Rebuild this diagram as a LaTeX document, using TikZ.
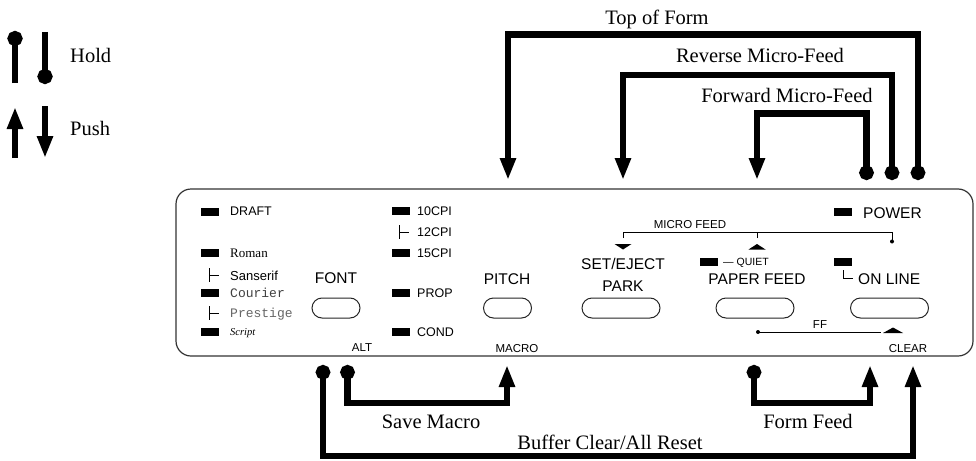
\documentclass[tikz,border=0pt]{standalone}
\usepackage{fontspec}
\setmainfont{Liberation Serif}
\newfontfamily\arialf{Liberation Sans}
\newfontfamily\courf{Liberation Mono}
\usetikzlibrary{arrows.meta}
\begin{document}
\begin{tikzpicture}[x=1pt,y=-1pt,
  conn/.style={line width=6.5pt,{Circle[length=14.5pt,width=14.5pt]}-{Triangle[width=15pt,length=22pt]}},
  holdl/.style={line width=6.5pt,-{Circle[length=15pt,width=15pt]}},
  pushl/.style={line width=6.5pt,-{Triangle[width=15pt,length=22pt]}},
  lbl/.style={inner sep=0pt,font=\fontsize{20.5}{24}\selectfont},
  big/.style={inner sep=0pt,font=\arialf\fontsize{15.5}{18}\selectfont},
  med/.style={inner sep=0pt,font=\arialf\fontsize{12.5}{15}\selectfont},
  small/.style={inner sep=0pt,font=\arialf\fontsize{11.5}{14}\selectfont},
  tiny/.style={inner sep=0pt,font=\arialf\fontsize{10.5}{12}\selectfont},
  led/.style={fill=black,draw=none,minimum width=18pt,minimum height=8pt,inner sep=0pt},
  btn/.style={draw=black!85,line width=1pt,rounded corners=10pt,minimum width=48pt,minimum height=20pt,inner sep=0pt},
  wbtn/.style={btn,minimum width=78pt},
  thin/.style={line width=0.8pt},
  tri/.style={fill=black,draw=none}]
\useasboundingbox (0,0) rectangle (976,460);
\fill[white] (0,0) rectangle (976,460);

% legend
\coordinate (h1a) at (15,83); \coordinate (h1b) at (15,31);
\coordinate (h2a) at (45,32); \coordinate (h2b) at (45,84);
\draw[holdl] (h1a) -- (h1b);
\draw[holdl] (h2a) -- (h2b);
\node[lbl,anchor=base west] (hold) at (70,63) {Hold};
\coordinate (p1a) at (15,158); \coordinate (p1b) at (15,107);
\coordinate (p2a) at (45,106); \coordinate (p2b) at (45,158);
\draw[pushl] (p1a) -- (p1b);
\draw[pushl] (p2a) -- (p2b);
\node[lbl,anchor=base west] (push) at (70,135) {Push};

% panel
\draw[line width=1.2pt,draw=black!80,rounded corners=15pt] (176,189) rectangle (973,356);

% left column
\node[led] (ledDraft) at (210,211.5) {};
\node[med,anchor=base west] (tDraft) at (230,215.3) {DRAFT};
\node[led] (ledRoman) at (210,252.5) {};
\node[inner sep=0pt,anchor=base west,font=\fontsize{13}{15}\selectfont] (tRoman) at (230,257) {Roman};
\draw[thin] (209,268) -- (209,282) (209,275) -- (219,275);
\node[inner sep=0pt,anchor=base west,font=\arialf\fontsize{13}{15}\selectfont] (tSans) at (230,280) {Sanserif};
\node[led] (ledCourier) at (210,293) {};
\node[inner sep=0pt,anchor=base west,font=\courf\fontsize{13}{15}\selectfont,text=black!75] (tCourier) at (230,297) {Courier};
\draw[thin] (209,306) -- (209,320) (209,313) -- (219,313);
\node[inner sep=0pt,anchor=base west,font=\courf\fontsize{13}{15}\selectfont,text=black!60] (tPrestige) at (230,317) {Prestige};
\node[led] (ledScript) at (210,332) {};
\node[inner sep=0pt,anchor=base west,font=\itshape\fontsize{10.5}{12}\selectfont] (tScript) at (230,335) {Script};

\node[big,anchor=base] (tFont) at (336,283) {FONT};
\node[btn] (bFont) at (336,308) {};
\node[small,anchor=base] (tAlt) at (362,351) {ALT};

% pitch column
\node[led] (led10) at (401,211) {};
\node[med,anchor=base west] (t10) at (417,215) {10CPI};
\draw[thin] (399,225) -- (399,239) (399,232) -- (409,232);
\node[med,anchor=base west] (t12) at (417,236) {12CPI};
\node[led] (led15) at (401,252.5) {};
\node[med,anchor=base west] (t15) at (417,257) {15CPI};
\node[led] (ledProp) at (401,293) {};
\node[med,anchor=base west] (tProp) at (417,297) {PROP};
\node[led] (ledCond) at (401,332) {};
\node[med,anchor=base west] (tCond) at (417,336) {COND};

\node[big,anchor=base] (tPitch) at (507,284) {PITCH};
\node[btn] (bPitch) at (507.5,308) {};
\node[small,anchor=base] (tMacro) at (517,352) {MACRO};

% set/eject
\node[big,anchor=base] (tSet) at (623,269) {SET/EJECT};
\node[big,anchor=base] (tPark) at (623,291) {PARK};
\node[wbtn] (bSet) at (621,308) {};

% micro feed bracket
\node[small,anchor=base] (tMicro) at (690,228) {MICRO FEED};
\coordinate (mfL) at (623,238); \coordinate (mfM) at (757,238); \coordinate (mfR) at (892,241.5);
\draw[thin] (mfL) -- (623,232) -- (892,232) -- (mfR);
\draw[thin] (mfM) -- (757,232);
\fill (mfR) circle (2pt);
\fill[tri] (614.5,244) -- (631.5,244) -- (623,249.5) -- cycle;
\fill[tri] (748.5,249.5) -- (765.5,249.5) -- (757,244) -- cycle;

% paper feed
\node[led] (ledQuiet) at (709,262) {};
\node[tiny,anchor=base west] (tQuiet) at (723,265) {\textemdash\ QUIET};
\node[big,anchor=base] (tPaper) at (757,284) {PAPER FEED};
\node[wbtn] (bPaper) at (755,308) {};

% power / on line
\node[led] (ledPower) at (842.5,212) {};
\node[big,anchor=base west] (tPower) at (863,218) {POWER};
\node[led] (ledOnline) at (842.5,262) {};
\draw[thin] (843,270) -- (843,278.5) -- (853,278.5);
\node[big,anchor=base west] (tOnline) at (858,284) {ON LINE};
\node[wbtn] (bOnline) at (889.5,308) {};

% FF / clear
\coordinate (ffL) at (758,332); \coordinate (ffR) at (881,332);
\draw[thin] (ffL) -- (ffR);
\fill (ffL) circle (2pt);
\node[small,anchor=base] (tFF) at (820,328) {FF};
\fill[tri] (883,333) -- (903,333) -- (893,327.5) -- cycle;
\node[small,anchor=base] (tClear) at (908,352) {CLEAR};

% top connectors
\coordinate (railTop) at (0,34.5);
\coordinate (railRev) at (0,75);
\coordinate (railFwd) at (0,113.5);
\coordinate (tofS) at (918,180); \coordinate (tofE) at (508,180);
\coordinate (revS) at (892,180); \coordinate (revE) at (623,180);
\coordinate (fwdS) at (866.5,180); \coordinate (fwdE) at (757,180);
\draw[conn] (tofS) -- (tofS |- railTop) -| (tofE);
\draw[conn] (revS) -- (revS |- railRev) -| (revE);
\draw[conn] (fwdS) -- (fwdS |- railFwd) -| (fwdE);
\node[lbl,anchor=base] (lTop) at (657,25) {Top of Form};
\node[lbl,anchor=base] (lRev) at (760,63) {Reverse Micro-Feed};
\node[lbl,anchor=base] (lFwd) at (787,102) {Forward Micro-Feed};

% bottom connectors
\coordinate (railSave) at (0,403);
\coordinate (railBuf) at (0,456);
\coordinate (saveS) at (347.5,365); \coordinate (saveE) at (507,365);
\coordinate (bufS) at (323,365); \coordinate (bufE) at (913,365);
\coordinate (ffS) at (754,365); \coordinate (ffE) at (870,365);
\draw[conn] (saveS) -- (saveS |- railSave) -| (saveE);
\draw[conn] (bufS) -- (bufS |- railBuf) -| (bufE);
\draw[conn] (ffS) -- (ffS |- railSave) -| (ffE);
\node[lbl,anchor=base] (lSave) at (431,428) {Save Macro};
\node[lbl,anchor=base] (lForm) at (808,428) {Form Feed};
\node[lbl,anchor=base] (lBuf) at (610,449) {Buffer Clear/All Reset};
\end{tikzpicture}
\end{document}
